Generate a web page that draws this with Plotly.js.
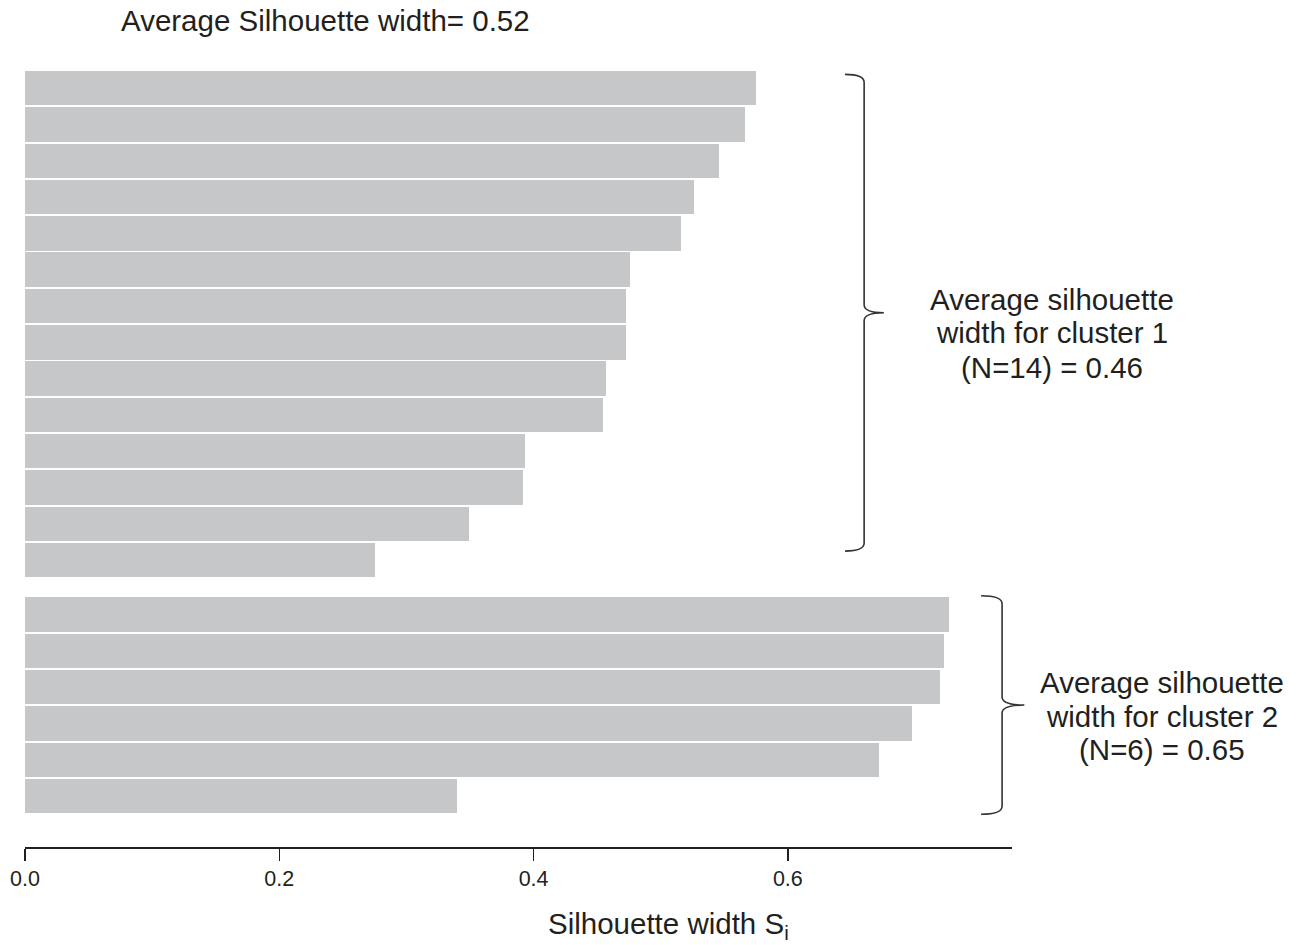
<!DOCTYPE html>
<html>
<head>
<meta charset="utf-8">
<script src="https://cdn.plot.ly/plotly-3.0.1.min.js"></script>
<style>
  html, body { margin: 0; padding: 0; background: #ffffff; }
  #chart { width: 1299px; height: 945px; }
</style>
</head>
<body>
<div id="chart"></div>
<script>
// ---- Data (silhouette widths per observation, sorted within cluster) ----
const cluster1Values = [0.575, 0.566, 0.546, 0.526, 0.516, 0.476, 0.473, 0.473, 0.457, 0.455, 0.393, 0.392, 0.349, 0.275];
const cluster2Values = [0.727, 0.723, 0.720, 0.698, 0.672, 0.340];
const tickValues = [0, 0.2, 0.4, 0.6];
const tickLabels = ['0.0', '0.2', '0.4', '0.6'];
const titleText = 'Average Silhouette width= 0.52';
const xTitleText = 'Silhouette width S<sub>i</sub>';
const cluster1Label = ['Average silhouette', 'width for cluster 1', '(N=14) = 0.46'];
const cluster2Label = ['Average silhouette', 'width for cluster 2', '(N=6) = 0.65'];

// ---- Layout constants ----
const XMAX = 0.7763;
const YTOP = -0.5, YBOT = 20.9;
const CLUSTER_GAP = 0.5;
const textColor = '#231f20';
const font = 'Liberation Sans, Arial, Helvetica, sans-serif';
const PLOT_L = 25, PLOT_R = 1012, PLOT_T = 70, PLOT_B = 847;

const y1 = cluster1Values.map((_, i) => i);
const y2 = cluster2Values.map((_, j) => cluster1Values.length + CLUSTER_GAP + j);

const barTrace = {
  type: 'bar',
  orientation: 'h',
  x: cluster1Values.concat(cluster2Values),
  y: y1.concat(y2),
  width: 0.95,
  marker: { color: '#c6c7c9', line: { width: 0 } },
  hoverinfo: 'skip',
  showlegend: false
};

const px = v => v / XMAX;                      // data x -> paper x
const py = u => (YBOT - u) / (YBOT - YTOP);     // data y -> paper y
const pixX = p => (p - PLOT_L) / (PLOT_R - PLOT_L);
const pixY = p => (PLOT_B - p) / (PLOT_B - PLOT_T);

function bracePath(xv, top, bottom, arm, tip) {
  const mid = (top + bottom) / 2;
  const c = 0.22; // curve size in y units
  const X = px(xv), A = px(xv - arm), T = px(xv + tip);
  return 'M' + A + ',' + py(top) +
         ' Q' + X + ',' + py(top) + ' ' + X + ',' + py(top + c) +
         ' L' + X + ',' + py(mid - c) +
         ' Q' + X + ',' + py(mid) + ' ' + T + ',' + py(mid) +
         ' Q' + X + ',' + py(mid) + ' ' + X + ',' + py(mid + c) +
         ' L' + X + ',' + py(bottom - c) +
         ' Q' + X + ',' + py(bottom) + ' ' + A + ',' + py(bottom);
}

const braceLine = { color: '#333333', width: 1.6 };
const shapes = [
  { type: 'path', xref: 'paper', yref: 'paper', path: bracePath(0.660, -0.38, 12.75, 0.015, 0.0155), line: braceLine },
  { type: 'path', xref: 'paper', yref: 'paper', path: bracePath(0.7685, 13.98, 20.0, 0.0165, 0.0175), line: braceLine }
];

function labelAnnotations(lines, xPix, yPix) {
  return lines.map((t, k) => ({
    text: t, xref: 'paper', yref: 'paper',
    x: pixX(xPix), y: pixY(yPix[k]),
    xanchor: 'center', yanchor: 'middle', showarrow: false,
    font: { family: font, size: 29.5, color: textColor }
  }));
}
const annotations = []
  .concat(labelAnnotations(cluster1Label, 1052, [299, 333, 367]))
  .concat(labelAnnotations(cluster2Label, 1162, [682, 716, 749]))
  .concat([{
    text: xTitleText, xref: 'paper', yref: 'paper',
    x: pixX(546), y: pixY(925), xanchor: 'left', yanchor: 'middle', showarrow: false,
    font: { family: font, size: 29.5, color: textColor }
  }]);

const layout = {
  width: 1299, height: 945,
  paper_bgcolor: '#ffffff', plot_bgcolor: '#ffffff',
  margin: { l: PLOT_L, r: 1299 - PLOT_R, t: PLOT_T, b: 945 - PLOT_B },
  title: {
    text: titleText,
    font: { family: font, size: 29.5, color: textColor },
    xref: 'container', yref: 'container',
    x: 121 / 1299, xanchor: 'left',
    y: 1 - 21 / 945, yanchor: 'middle'
  },
  xaxis: {
    range: [0, XMAX],
    showgrid: false, zeroline: false,
    showline: true, linecolor: '#231f20', linewidth: 1.5,
    ticks: 'outside', ticklen: 12, tickwidth: 1.5, tickcolor: '#231f20',
    tickvals: tickValues, ticktext: tickLabels,
    tickfont: { family: font, size: 21.5, color: textColor },
    fixedrange: true
  },
  yaxis: {
    range: [YBOT, YTOP],
    visible: false, showgrid: false, zeroline: false, fixedrange: true
  },
  bargap: 0,
  shapes: shapes,
  annotations: annotations,
  showlegend: false
};

Plotly.newPlot('chart', [barTrace], layout, { displayModeBar: false, staticPlot: true });
</script>
</body>
</html>
